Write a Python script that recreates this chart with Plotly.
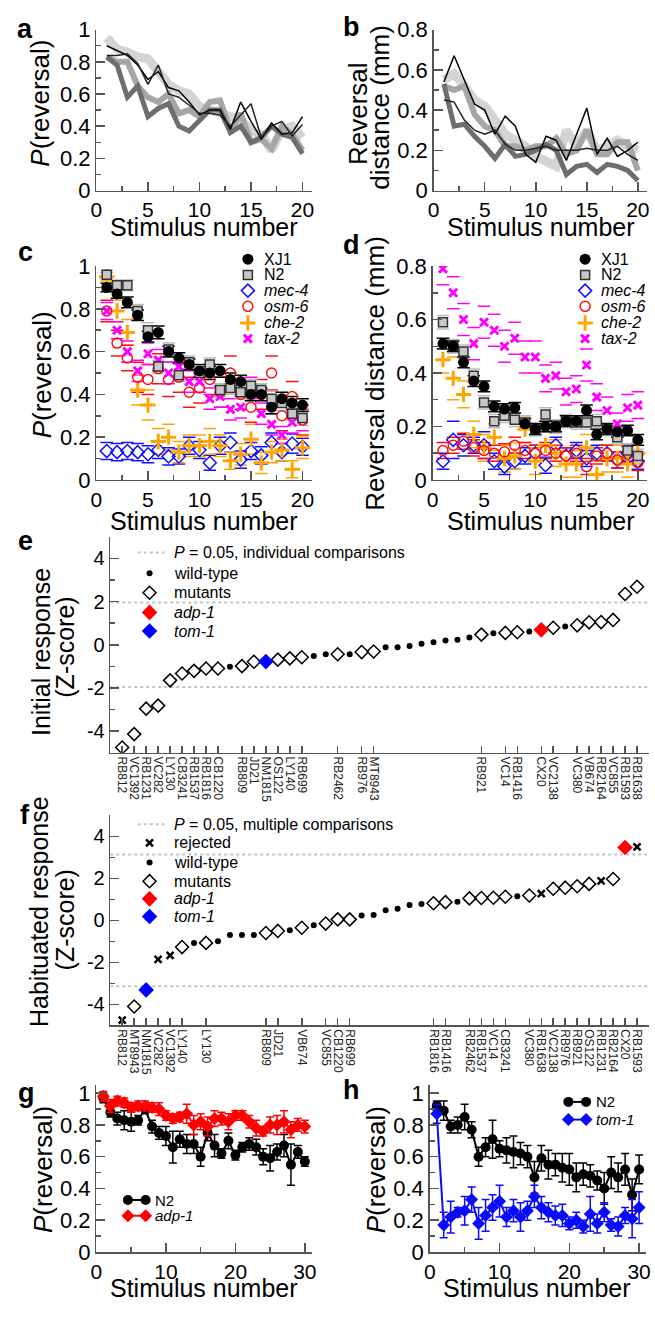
import plotly.graph_objects as go

W, H = 655, 1317
FONT = "Liberation Sans, Arial, Helvetica, sans-serif"
AX = "#555555"

stim20 = list(range(1, 21))
stim30 = list(range(1, 31))

# ---------------- panel a : P(reversal), grey traces ----------------
a_light = [0.95,0.88,0.86,0.83,0.82,0.74,0.66,0.62,0.60,0.52,0.50,0.48,0.47,0.44,0.37,0.35,0.25,0.38,0.40,0.33]
a_mid   = [0.83,0.80,0.80,0.65,0.58,0.55,0.60,0.48,0.50,0.46,0.55,0.56,0.37,0.48,0.30,0.32,0.26,0.40,0.35,0.25]
a_dark  = [0.83,0.78,0.58,0.65,0.46,0.51,0.54,0.40,0.37,0.44,0.50,0.50,0.36,0.40,0.30,0.33,0.40,0.35,0.33,0.23]
a_blk1  = [0.90,0.87,0.84,0.78,0.69,0.74,0.64,0.62,0.55,0.47,0.50,0.50,0.38,0.55,0.43,0.32,0.42,0.35,0.36,0.46]
a_blk2  = [0.84,0.84,0.85,0.79,0.66,0.78,0.60,0.58,0.53,0.48,0.48,0.47,0.40,0.47,0.54,0.33,0.40,0.43,0.34,0.41]

# ---------------- panel b : reversal distance, grey traces ----------------
b_light = [0.55,0.58,0.52,0.45,0.42,0.35,0.28,0.25,0.22,0.17,0.15,0.12,0.30,0.22,0.30,0.20,0.22,0.25,0.22,0.20]
b_mid   = [0.52,0.50,0.52,0.38,0.32,0.30,0.22,0.22,0.20,0.22,0.22,0.26,0.18,0.20,0.30,0.18,0.18,0.24,0.24,0.10]
b_dark  = [0.53,0.32,0.33,0.27,0.22,0.16,0.23,0.17,0.18,0.20,0.23,0.20,0.08,0.12,0.13,0.09,0.13,0.12,0.10,0.05]
b_blk1  = [0.54,0.67,0.55,0.43,0.40,0.28,0.37,0.32,0.18,0.14,0.27,0.25,0.15,0.28,0.41,0.18,0.26,0.17,0.20,0.24]
b_blk2  = [0.45,0.44,0.35,0.30,0.28,0.30,0.23,0.20,0.20,0.21,0.22,0.20,0.20,0.20,0.21,0.20,0.20,0.22,0.18,0.15]

# ---------------- panel c : P(reversal) by strain ----------------
c_strains = ["XJ1", "N2", "mec-4", "osm-6", "che-2", "tax-2"]
c_vals = {
    "XJ1":   [0.90,0.87,0.83,0.77,0.67,0.69,0.60,0.57,0.54,0.51,0.50,0.51,0.47,0.46,0.40,0.40,0.34,0.38,0.36,0.35],
    "N2":    [0.96,0.91,0.91,0.79,0.70,0.53,0.61,0.49,0.55,0.50,0.54,0.42,0.43,0.41,0.44,0.42,0.38,0.36,0.31,0.29],
    "mec-4": [0.135,0.13,0.135,0.13,0.12,0.14,0.11,0.11,0.16,0.14,0.08,0.16,0.175,0.095,0.135,0.115,0.175,0.13,0.17,0.155],
    "osm-6": [0.79,0.64,0.57,0.48,0.47,0.52,0.47,0.48,0.41,0.43,0.47,0.41,0.50,0.40,0.34,0.40,0.50,0.30,0.39,0.28],
    "che-2": [0.95,0.79,0.69,0.42,0.35,0.18,0.20,0.13,0.16,0.16,0.18,0.16,0.09,0.12,0.19,0.08,0.13,0.14,0.05,0.15],
    "tax-2": [0.79,0.70,0.60,0.51,0.59,0.56,0.50,0.53,0.46,0.46,0.38,0.39,0.33,0.34,0.43,0.31,0.26,0.21,0.27,0.28],
}
c_errs = {
    "XJ1":   [0.02,0.02,0.025,0.025,0.025,0.03,0.025,0.025,0.025,0.03,0.03,0.03,0.03,0.03,0.03,0.03,0.03,0.03,0.03,0.03],
    "N2":    [0.02,0.025,0.025,0.03,0.035,0.03,0.03,0.03,0.03,0.03,0.03,0.03,0.03,0.03,0.03,0.03,0.035,0.035,0.03,0.035],
    "mec-4": [0.04,0.04,0.04,0.04,0.04,0.04,0.04,0.035,0.04,0.04,0.035,0.04,0.045,0.04,0.04,0.04,0.045,0.04,0.045,0.04],
    "osm-6": [0.05,0.06,0.06,0.07,0.07,0.07,0.08,0.07,0.07,0.07,0.07,0.07,0.08,0.07,0.07,0.07,0.08,0.07,0.07,0.07],
    "che-2": [0.02,0.05,0.06,0.07,0.07,0.06,0.06,0.05,0.05,0.05,0.06,0.05,0.04,0.05,0.07,0.05,0.05,0.05,0.04,0.05],
    "tax-2": [0.04,0.04,0.05,0.05,0.05,0.05,0.05,0.05,0.05,0.05,0.05,0.05,0.05,0.05,0.05,0.05,0.05,0.04,0.05,0.05],
}

# ---------------- panel d : reversal distance by strain ----------------
d_vals = {
    "XJ1":   [0.51,0.50,0.44,0.37,0.35,0.275,0.265,0.27,0.21,0.19,0.20,0.20,0.22,0.22,0.26,0.17,0.19,0.18,0.185,0.15],
    "N2":    [0.59,0.50,0.48,0.39,0.29,0.22,0.24,0.225,0.215,0.19,0.245,0.20,0.22,0.215,0.215,0.22,0.19,0.16,0.11,0.09],
    "mec-4": [0.07,0.15,0.13,0.13,0.13,0.07,0.05,0.07,0.09,0.10,0.055,0.13,0.09,0.11,0.08,0.10,0.10,0.075,0.10,0.07],
    "osm-6": [0.11,0.13,0.145,0.12,0.11,0.10,0.105,0.13,0.11,0.10,0.11,0.10,0.09,0.10,0.05,0.09,0.10,0.075,0.095,0.065],
    "che-2": [0.45,0.38,0.32,0.17,0.12,0.16,0.08,0.09,0.19,0.07,0.13,0.10,0.06,0.06,0.12,0.02,0.08,0.08,0.06,0.10],
    "tax-2": [0.79,0.70,0.60,0.51,0.59,0.56,0.50,0.53,0.46,0.46,0.38,0.39,0.33,0.34,0.43,0.31,0.26,0.21,0.27,0.28],
}
d_errs = {
    "XJ1":   [0.02]*20,
    "N2":    [0.025]*20,
    "mec-4": [0.03,0.07,0.04,0.03,0.05,0.03,0.03,0.03,0.03,0.03,0.03,0.03,0.03,0.03,0.03,0.03,0.03,0.03,0.03,0.03],
    "osm-6": [0.03]*20,
    "che-2": [0.05,0.08,0.05,0.05,0.05,0.05,0.05,0.05,0.05,0.05,0.05,0.05,0.05,0.05,0.05,0.05,0.05,0.05,0.05,0.04],
    "tax-2": [0.06,0.06,0.06,0.06,0.06,0.06,0.06,0.06,0.06,0.06,0.05,0.05,0.05,0.05,0.06,0.05,0.05,0.04,0.05,0.05],
}

c_colors = {"XJ1": "black", "N2": "#333333", "mec-4": "#1010ff", "osm-6": "#ff1010",
            "che-2": "#ffa500", "tax-2": "#ff00ff"}
c_caps = {"XJ1": "black", "N2": "#bbbbbb", "mec-4": "#1010ff", "osm-6": "#ff1010",
          "che-2": "#ffa500", "tax-2": "#ff00ff"}

# ---------------- panel e : initial response Z-scores ----------------
e_strain = ["RB812","VC1392","RB1231","VC282","LY130","CB3241","RB1537","RB1816","CB1220","wt",
            "RB809","JD21","NM1815","OS122","LY140","RB699","wt","wt","RB2462","wt",
            "RB976","MT8943","wt","wt","wt","wt","wt","wt","wt","wt",
            "RB921","wt","VC14","RB1416","wt","CX20","VC2138","wt","VC380","VB674",
            "RB2164","VC855","RB1593","RB1638"]
e_z = [-4.76,-4.14,-2.96,-2.82,-1.65,-1.33,-1.21,-1.10,-1.10,-1.02,
       -0.99,-0.79,-0.78,-0.69,-0.63,-0.58,-0.52,-0.44,-0.44,-0.44,
       -0.34,-0.31,-0.12,-0.11,-0.06,0.05,0.12,0.20,0.23,0.34,
       0.47,0.53,0.55,0.58,0.61,0.69,0.79,0.84,0.90,1.04,
       1.05,1.15,2.35,2.69]

# ---------------- panel f : habituated response Z-scores ----------------
f_strain = ["RB812","MT8943","NM1815","VC282","VC1392","LY140","wt","LY130","wt","wt",
            "wt","wt","RB809","JD21","wt","VB674","wt","VC855","CB1220","RB699",
            "wt","wt","wt","wt","wt","wt","RB1816","RB1416","wt","RB2462",
            "RB1537","VC14","CB3241","wt","VC380","RB1638","VC2138","RB976","RB921","OS122",
            "RB1231","RB2164","CX20","RB1593"]
f_z = [-4.75,-4.10,-3.31,-1.85,-1.66,-1.27,-1.07,-1.07,-0.99,-0.69,
       -0.69,-0.69,-0.60,-0.50,-0.47,-0.35,-0.23,-0.15,0.05,0.05,
       0.24,0.26,0.49,0.56,0.73,0.78,0.82,0.87,0.89,1.05,
       1.07,1.08,1.13,1.15,1.19,1.28,1.51,1.56,1.63,1.74,
       1.88,1.97,3.47,3.50]
f_rejected = ["RB812","VC282","VC1392","RB1638","RB1231","RB1593"]
adp1_strain = "CX20"
tom1_strain = "NM1815"
p_individual = 1.96
p_multiple = 3.14

# ---------------- panel g : N2 vs adp-1 ----------------
g_n2 = [0.97,0.88,0.84,0.83,0.82,0.83,0.90,0.79,0.75,0.73,0.66,0.71,0.68,0.68,0.60,0.75,0.67,0.62,0.70,0.61,
        0.66,0.68,0.66,0.60,0.59,0.63,0.67,0.55,0.63,0.57]
g_n2_err = [0.03,0.03,0.04,0.06,0.06,0.03,0.03,0.04,0.04,0.06,0.10,0.05,0.06,0.06,0.06,0.05,0.07,0.03,0.05,0.03,
            0.03,0.04,0.05,0.05,0.08,0.05,0.07,0.13,0.04,0.03]
g_adp = [0.98,0.92,0.95,0.94,0.91,0.92,0.92,0.91,0.90,0.86,0.84,0.85,0.87,0.80,0.82,0.79,0.84,0.84,0.82,0.86,
         0.86,0.82,0.78,0.76,0.80,0.80,0.82,0.77,0.80,0.79]
g_adp_err = [0.03,0.04,0.03,0.03,0.03,0.03,0.03,0.03,0.04,0.03,0.03,0.03,0.06,0.06,0.05,0.06,0.05,0.04,0.05,0.03,
             0.03,0.04,0.05,0.03,0.05,0.06,0.07,0.05,0.04,0.04]

# ---------------- panel h : N2 vs tom-1 ----------------
h_n2 = [0.92,0.89,0.79,0.80,0.85,0.77,0.60,0.66,0.71,0.65,0.64,0.63,0.62,0.60,0.47,0.59,0.55,0.55,0.53,0.52,
        0.47,0.49,0.48,0.45,0.40,0.50,0.47,0.52,0.36,0.52]
h_n2_err = [0.03,0.06,0.04,0.05,0.08,0.05,0.06,0.06,0.12,0.05,0.08,0.10,0.07,0.07,0.10,0.08,0.09,0.07,0.09,0.10,
            0.09,0.07,0.07,0.06,0.10,0.10,0.09,0.10,0.10,0.09]
h_tom = [0.87,0.17,0.22,0.25,0.26,0.33,0.18,0.23,0.28,0.32,0.22,0.26,0.22,0.26,0.35,0.28,0.25,0.23,0.23,0.18,
         0.20,0.16,0.24,0.18,0.25,0.17,0.16,0.23,0.21,0.28]
h_tom_err = [0.06,0.08,0.10,0.03,0.09,0.08,0.10,0.10,0.08,0.10,0.06,0.07,0.09,0.06,0.07,0.07,0.06,0.06,0.07,0.04,
             0.05,0.04,0.11,0.06,0.06,0.04,0.06,0.05,0.12,0.10]

# =====================================================================
fig = go.Figure()
layout = {}


def axis_common(tfs):
    return dict(showline=True, linecolor=AX, linewidth=1.5, showgrid=False, zeroline=False,
                ticks="inside", ticklen=9, tickwidth=1.5, tickcolor=AX, fixedrange=True,
                tickfont=dict(family=FONT, size=tfs, color="black"))


def add_axes(n, xd, yd, xr, yr, xdt, xmin, ydt, ymin, tfs=22, xtv=None, xtt=None, ytv=None, ytt=None):
    xk = "xaxis" if n == 1 else f"xaxis{n}"
    yk = "yaxis" if n == 1 else f"yaxis{n}"
    xa = axis_common(tfs - 1)
    ya = axis_common(tfs)
    xa.update(domain=[xd[0] / W, xd[1] / W], range=xr, anchor="y" if n == 1 else f"y{n}")
    ya.update(domain=[1 - yd[1] / H, 1 - yd[0] / H], range=yr, anchor="x" if n == 1 else f"x{n}")
    if xtv is not None:
        xa.update(tickmode="array", tickvals=xtv, ticktext=xtt, tickangle=90, ticklen=7,
                  tickfont=dict(family=FONT, size=12, color="#222"))
    else:
        xa.update(tick0=0, dtick=xdt, minor=dict(ticks="inside", ticklen=5, tickwidth=1.5, tickcolor=AX,
                                                  dtick=xmin, tick0=0))
    if ytv is not None:
        ya.update(tickmode="array", tickvals=ytv, ticktext=ytt,
                  minor=dict(ticks="inside", ticklen=5, tickwidth=1.5, tickcolor=AX, dtick=ymin, tick0=0))
    else:
        ya.update(tick0=0, dtick=ydt, minor=dict(ticks="inside", ticklen=5, tickwidth=1.5, tickcolor=AX,
                                                  dtick=ymin, tick0=0))
    layout[xk] = xa
    layout[yk] = ya


# panel axes
add_axes(1, (92, 311), (18, 182), [0, 20.9], [0, 1], 5, 2.5, 0.2, 0.1)
add_axes(2, (435, 652), (18, 182), [0, 20.9], [0, 0.8], 5, 2.5, 0.2, 0.1)
add_axes(3, (92, 311), (259, 477), [0, 20.9], [0, 1], 5, 2.5, 0.2, 0.1)
add_axes(4, (434, 652), (259, 477), [0, 20.9], [0, 0.8], 5, 2.5, 0.2, 0.1)

e_ticks = [i + 1 for i, s in enumerate(e_strain) if s != "wt"]
e_text = [s for s in e_strain if s != "wt"]
f_ticks = [i + 1 for i, s in enumerate(f_strain) if s != "wt"]
f_text = [s for s in f_strain if s != "wt"]
zt = [-4, -2, 0, 2, 4]
zt_txt = ["-4", "-2", "0", "2", "4"]
add_axes(5, (106, 654), (535, 755), [0, 45], [-5, 5], None, None, 2, 1, tfs=20,
         xtv=e_ticks, xtt=e_text, ytv=zt, ytt=zt_txt)
add_axes(6, (106, 654), (819, 1033), [0, 45], [-5, 5], None, None, 2, 1, tfs=20,
         xtv=f_ticks, xtt=f_text, ytv=zt, ytt=zt_txt)
add_axes(7, (92, 311), (1094, 1264), [0, 31], [0, 1.05], 10, 5, 0.2, 0.1)
add_axes(8, (431, 651), (1094, 1264), [0, 31], [0, 1.05], 10, 5, 0.2, 0.1)

# overlay pixel axes for labels / legend swatches
layout["xaxis9"] = dict(domain=[0, 1], range=[0, W], anchor="y9", visible=False, fixedrange=True)
layout["yaxis9"] = dict(domain=[0, 1], range=[H, 0], anchor="x9", visible=False, fixedrange=True)

# ---------- panel a / b traces ----------
grey_styles = [("#d4d4d4", 9), ("#a6a6a6", 6), ("#6e6e6e", 5), ("#000000", 1.5), ("#222222", 1.5)]
for (col, w), ys in zip(grey_styles, [a_light, a_mid, a_dark, a_blk1, a_blk2]):
    fig.add_trace(go.Scatter(x=stim20, y=ys, mode="lines", line=dict(color=col, width=w),
                             xaxis="x", yaxis="y", showlegend=False))
for (col, w), ys in zip(grey_styles, [b_light, b_mid, b_dark, b_blk1, b_blk2]):
    fig.add_trace(go.Scatter(x=stim20, y=ys, mode="lines", line=dict(color=col, width=w),
                             xaxis="x2", yaxis="y2", showlegend=False))


# ---------- panel c / d traces ----------
def marker_for(s, size=10):
    if s == "XJ1":
        return dict(symbol="circle", size=size + 1, color="black")
    if s == "N2":
        return dict(symbol="square", size=size - 1, color="#c8c8c8", line=dict(color="#333333", width=1.5))
    if s == "mec-4":
        return dict(symbol="diamond-open", size=size, color=c_colors[s], line=dict(width=1.5))
    if s == "osm-6":
        return dict(symbol="circle-open", size=size, color=c_colors[s], line=dict(width=1.5))
    if s == "che-2":
        return dict(symbol="cross-thin-open", size=size + 1, color=c_colors[s], line=dict(color=c_colors[s], width=3))
    return dict(symbol="x-thin-open", size=size - 2, color=c_colors[s], line=dict(color=c_colors[s], width=3))


draw_order = ["mec-4", "che-2", "osm-6", "tax-2", "N2", "XJ1"]
for xa, ya, vals, errs in [("x3", "y3", c_vals, c_errs), ("x4", "y4", d_vals, d_errs)]:
    for s in draw_order:
        v, e = vals[s], errs[s]
        fig.add_trace(go.Scatter(
            x=stim20 + stim20, y=[a + b for a, b in zip(v, e)] + [a - b for a, b in zip(v, e)],
            mode="markers", xaxis=xa, yaxis=ya, showlegend=False,
            marker=dict(symbol="line-ew", size=9, line=dict(color=c_caps[s], width=1.5))))
    for s in draw_order:
        fig.add_trace(go.Scatter(x=stim20, y=vals[s], mode="markers", xaxis=xa, yaxis=ya,
                                 showlegend=False, marker=marker_for(s)))


# ---------- panel e / f traces ----------
def zscore_traces(strains, zs, xa, ya, pthr, rejected):
    idx = list(range(1, len(strains) + 1))
    fig.add_trace(go.Scatter(x=[0, 45, None, 0, 45], y=[pthr, pthr, None, -pthr, -pthr], mode="lines",
                             line=dict(color="#c4c4c4", width=2, dash="dot"), xaxis=xa, yaxis=ya,
                             showlegend=False))
    groups = {"wt": [], "mut": [], "rej": [], "adp": [], "tom": []}
    for i, s, z in zip(idx, strains, zs):
        if s == "wt":
            k = "wt"
        elif s == adp1_strain:
            k = "adp"
        elif s == tom1_strain:
            k = "tom"
        elif s in rejected:
            k = "rej"
        else:
            k = "mut"
        groups[k].append((i, z))
    styles = {
        "wt": dict(symbol="circle", size=6, color="black"),
        "mut": dict(symbol="diamond-open", size=10, color="black", line=dict(width=1.5)),
        "rej": dict(symbol="x-thin-open", size=7, color="black", line=dict(color="black", width=2.5)),
        "adp": dict(symbol="diamond", size=12, color="#ff0000"),
        "tom": dict(symbol="diamond", size=12, color="#0000ff"),
    }
    for k, pts in groups.items():
        if not pts:
            continue
        fig.add_trace(go.Scatter(x=[p[0] for p in pts], y=[p[1] for p in pts], mode="markers",
                                 marker=styles[k], xaxis=xa, yaxis=ya, showlegend=False))
    return styles


e_styles = zscore_traces(e_strain, e_z, "x5", "y5", p_individual, [])
f_styles = zscore_traces(f_strain, f_z, "x6", "y6", p_multiple, f_rejected)


# ---------- panel g / h traces ----------
def err_series(ys, es, col, sym, xa, ya, msize):
    fig.add_trace(go.Scatter(x=stim30, y=ys, mode="lines+markers", xaxis=xa, yaxis=ya, showlegend=False,
                             line=dict(color=col, width=2),
                             marker=dict(symbol=sym, size=msize, color=col),
                             error_y=dict(type="data", array=es, color=col, thickness=1.5, width=4)))


err_series(g_n2, g_n2_err, "black", "circle", "x7", "y7", 10)
err_series(g_adp, g_adp_err, "#ff0000", "diamond", "x7", "y7", 10)
err_series(h_n2, h_n2_err, "black", "circle", "x8", "y8", 10)
err_series(h_tom, h_tom_err, "#0a0aff", "diamond", "x8", "y8", 10)

# ---------- custom legends (pixel overlay) ----------
ann = []


def txt(x, y, s, size=16, xanchor="left", angle=0, bold=False):
    ann.append(dict(x=x, y=y, xref="x9", yref="y9", text=f"<b>{s}</b>" if bold else s,
                    showarrow=False, xanchor=xanchor, yanchor="middle", textangle=angle,
                    font=dict(family=FONT, size=size, color="black")))


def swatch(x, y, marker):
    fig.add_trace(go.Scatter(x=[x], y=[y], mode="markers", marker=marker, xaxis="x9", yaxis="y9",
                             showlegend=False, hoverinfo="skip"))


legend_labels = {"XJ1": "XJ1", "N2": "N2", "mec-4": "<i>mec-4</i>", "osm-6": "<i>osm-6</i>",
                 "che-2": "<i>che-2</i>", "tax-2": "<i>tax-2</i>"}
rows_cd = [252, 268, 284, 300, 317, 333]
for mx in (246, 589):
    for s, ry in zip(c_strains, rows_cd):
        swatch(mx, ry, marker_for(s))
        txt(mx + 14, ry, legend_labels[s], size=16)


def z_legend(rows, title, styles, with_rej):
    r = iter(rows)
    y0 = next(r)
    fig.add_trace(go.Scatter(x=[134, 161], y=[y0, y0], mode="lines", xaxis="x9", yaxis="y9",
                             line=dict(color="#c4c4c4", width=2, dash="dot"), showlegend=False))
    txt(169, y0, title, size=16)
    entries = []
    if with_rej:
        entries.append(("rej", "rejected"))
    entries += [("wt", "wild-type"), ("mut", "mutants"), ("adp", "<i>adp-1</i>"), ("tom", "<i>tom-1</i>")]
    for (k, lab), ry in zip(entries, r):
        swatch(146, ry, styles[k])
        txt(169, ry, lab, size=16)


z_legend([551, 572, 592, 612, 631], "<i>P</i> = 0.05, individual comparisons", e_styles, False)
z_legend([828, 847, 867, 886, 904, 922], "<i>P</i> = 0.05, multiple comparisons", f_styles, True)


def line_legend(x0, x1, y, col, sym, label):
    fig.add_trace(go.Scatter(x=[x0, x1], y=[y, y], mode="lines+markers", xaxis="x9", yaxis="y9",
                             line=dict(color=col, width=2), marker=dict(symbol=sym, size=10, color=col),
                             showlegend=False))
    txt(x1 + 8, y, label, size=15)


line_legend(124, 142, 1211, "black", "circle", "N2")
line_legend(124, 142, 1227, "#ff0000", "diamond", "<i>adp-1</i>")
line_legend(572, 590, 1111, "black", "circle", "N2")
line_legend(572, 590, 1129, "#0a0aff", "diamond", "<i>tom-1</i>")

# ---------- axis titles ----------
for cx, cy in [(201, 219), (544, 219), (201, 519), (544, 519), (201, 1301), (540, 1301)]:
    txt(cx, cy, "Stimulus number", size=25, xanchor="center")
txt(35, 93, "<i>P</i>(reversal)", size=26, xanchor="center", angle=-90)
txt(358, 103, "Reversal", size=26, xanchor="center", angle=-90)
txt(381, 97, "distance (mm)", size=26, xanchor="center", angle=-90)
txt(37, 370, "<i>P</i>(reversal)", size=26, xanchor="center", angle=-90)
txt(375, 368, "Reversal distance (mm)", size=26, xanchor="center", angle=-90)
txt(35, 652, "Initial response", size=25, xanchor="center", angle=-90)
txt(60, 647, "(Z-score)", size=25, xanchor="center", angle=-90)
txt(33, 917, "Habituated response", size=25, xanchor="center", angle=-90)
txt(60, 925, "(Z-score)", size=25, xanchor="center", angle=-90)
txt(37, 1180, "<i>P</i>(reversal)", size=26, xanchor="center", angle=-90)
txt(376, 1180, "<i>P</i>(reversal)", size=26, xanchor="center", angle=-90)

# ---------- panel letters ----------
for letter, (lx, ly) in {"a": (19, 17), "b": (351, 15), "c": (20, 245), "d": (351, 237),
                         "e": (20, 539), "f": (19, 819), "g": (21, 1102), "h": (351, 1099)}.items():
    txt(lx, ly, letter, size=27, xanchor="center", bold=True)

fig.update_layout(width=W, height=H, margin=dict(l=0, r=0, t=0, b=0), autosize=False,
                  paper_bgcolor="white", plot_bgcolor="rgba(0,0,0,0)", showlegend=False,
                  font=dict(family=FONT, color="black"), annotations=ann, **layout)

fig.write_html("out.html", config={"displayModeBar": False, "staticPlot": True},
               post_script="document.body.style.margin='0px';document.body.style.padding='0px';"
                           "document.body.style.overflow='hidden';")
